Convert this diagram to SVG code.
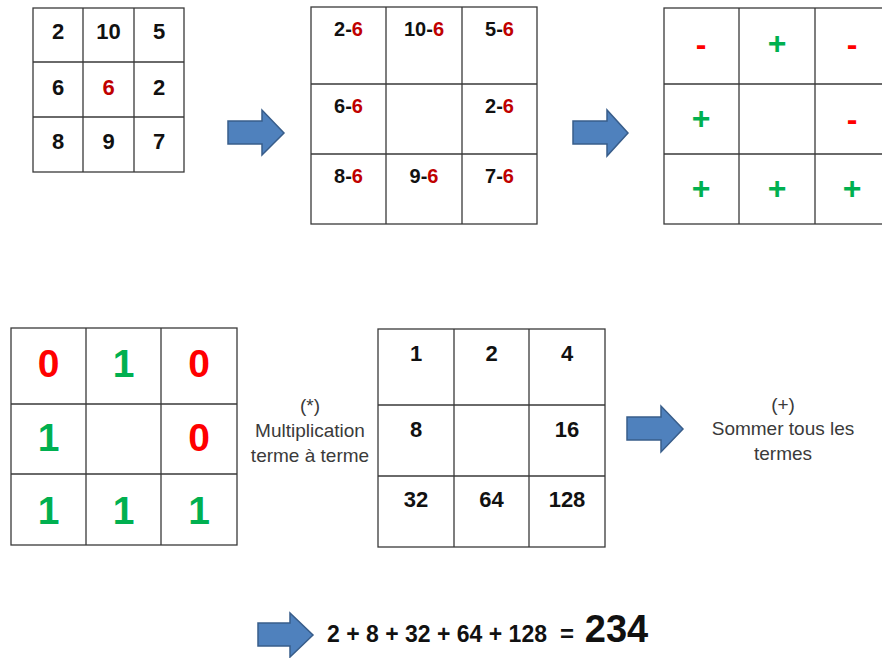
<svg xmlns="http://www.w3.org/2000/svg" width="882" height="658" viewBox="0 0 882 658">
<style>
.g{fill:none;stroke:#3a3a3a;stroke-width:1.3}
.b{font-family:"Liberation Sans",Arial,sans-serif;font-weight:bold;text-anchor:middle;fill:#111}
.n{font-family:"Liberation Sans",Arial,sans-serif;text-anchor:middle;fill:#3a3a3a;font-size:19px}
.dr{fill:#C00000}
.r{fill:#FF0000}
.gr{fill:#00B050}
.arr{fill:#4F81BD;stroke:#385D8A;stroke-width:1.5;stroke-linejoin:miter}
</style>
<rect width="882" height="658" fill="#fff"/>
<g id="grid1">
<rect class="g" x="33" y="8" width="151" height="164"/>
<path class="g" d="M83 8V172M134 8V172M33 62H184M33 117H184"/>
<g class="b" font-size="22">
<text x="58" y="39">2</text><text x="108.5" y="39">10</text><text x="159" y="39">5</text>
<text x="58" y="95">6</text><text x="108.5" y="95" class="b dr">6</text><text x="159" y="95">2</text>
<text x="58" y="149">8</text><text x="108.5" y="149">9</text><text x="159" y="149">7</text>
</g>
</g>
<g id="grid2">
<rect class="g" x="311" y="7" width="226" height="217"/>
<path class="g" d="M386 7V224M462 7V224M311 84H537M311 154H537"/>
<g class="b" font-size="20">
<text x="348.5" y="36">2-<tspan class="dr">6</tspan></text>
<text x="424" y="36">10-<tspan class="dr">6</tspan></text>
<text x="499.5" y="36">5-<tspan class="dr">6</tspan></text>
<text x="348.5" y="113">6-<tspan class="dr">6</tspan></text>
<text x="499.5" y="113">2-<tspan class="dr">6</tspan></text>
<text x="348.5" y="183">8-<tspan class="dr">6</tspan></text>
<text x="424" y="183">9-<tspan class="dr">6</tspan></text>
<text x="499.5" y="183">7-<tspan class="dr">6</tspan></text>
</g>
</g>
<g id="grid3">
<rect class="g" x="664" y="8" width="226" height="216"/>
<path class="g" d="M739 8V224M815 8V224M664 84H890M664 154H890"/>
<g class="b" font-size="32">
<text x="701" y="55" class="b r">-</text>
<text x="777" y="54" class="b gr">+</text>
<text x="852" y="55" class="b r">-</text>
<text x="701" y="129" class="b gr">+</text>
<text x="852" y="130" class="b r">-</text>
<text x="701" y="199" class="b gr">+</text>
<text x="777" y="199" class="b gr">+</text>
<text x="852" y="199" class="b gr">+</text>
</g>
</g>
<g id="grid4">
<rect class="g" x="11" y="328" width="226" height="217"/>
<path class="g" d="M86 328V545M161 328V545M11 404H237M11 474H237"/>
<g class="b" font-size="39">
<text x="48.5" y="377" class="b r">0</text>
<text x="123.5" y="377" class="b gr">1</text>
<text x="199" y="377" class="b r">0</text>
<text x="48.5" y="451" class="b gr">1</text>
<text x="199" y="451" class="b r">0</text>
<text x="48.5" y="524" class="b gr">1</text>
<text x="123.5" y="524" class="b gr">1</text>
<text x="199" y="524" class="b gr">1</text>
</g>
</g>
<g id="label-mult" class="n">
<text x="310" y="412">(*)</text>
<text x="310" y="437">Multiplication</text>
<text x="310" y="462">terme à terme</text>
</g>
<g id="grid5">
<rect class="g" x="378" y="329" width="227" height="218"/>
<path class="g" d="M454 329V547M529 329V547M378 405H605M378 476H605"/>
<g class="b" font-size="22">
<text x="416" y="361">1</text><text x="491.5" y="361">2</text><text x="567" y="361">4</text>
<text x="416" y="437">8</text><text x="567" y="437">16</text>
<text x="416" y="507">32</text><text x="491.5" y="507">64</text><text x="567" y="507">128</text>
</g>
</g>
<g id="label-sum" class="n">
<text x="783" y="411">(+)</text>
<text x="783" y="435">Sommer tous les</text>
<text x="783" y="460">termes</text>
</g>
<g id="result" class="b">
<text x="437" y="642" font-size="24" textLength="220" lengthAdjust="spacingAndGlyphs">2 + 8 + 32 + 64 + 128</text>
<text x="567" y="642" font-size="24">=</text>
<text x="616.5" y="642" font-size="38">234</text>
</g>
<g id="connectors">
<polygon class="arr" points="228,121 262,121 262,110 284,133 262,155 262,144 228,144"/>
<polygon class="arr" points="573,121 607,121 607,110 628,133 607,156 607,144 573,144"/>
<polygon class="arr" points="627,417 661,417 661,406 683,429 661,452 661,440 627,440"/>
<polygon class="arr" points="258,623 290,623 290,613 313,635 290,657 290,646 258,646"/>
</g>
</svg>
